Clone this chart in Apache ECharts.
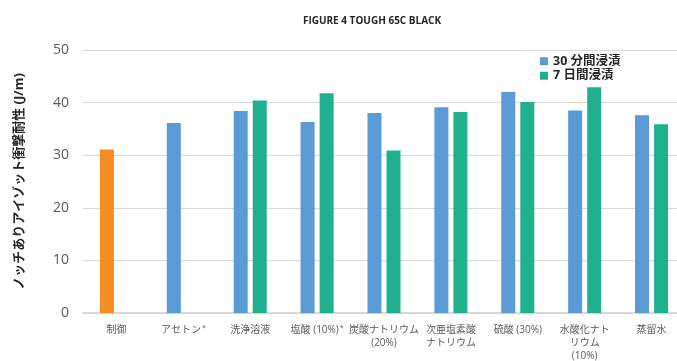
<!DOCTYPE html>
<html>
<head>
<meta charset="utf-8">
<script src="https://cdn.jsdelivr.net/npm/echarts@6/dist/echarts.min.js"></script>
<style>
  html, body { margin: 0; padding: 0; background: #fff; }
  #chart { width: 677px; height: 361px; }
</style>
</head>
<body>
<div id="chart"></div>
<script>
// カテゴリ（x軸）
const categories = ['制御', 'アセトン*', '洗浄溶液', '塩酸 (10%)*', '炭酸ナトリウム\n(20%)',
  '次亜塩素酸\nナトリウム', '硫酸 (30%)', '水酸化ナト\nリウム\n(10%)', '蒸留水'];
// 30 分間浸漬（先頭の「制御」はオレンジ表示）
const soak30min = [31.1, 36.1, 38.4, 36.3, 38.0, 39.1, 42.0, 38.5, 37.6];
// 7 日間浸漬
const soak7day = [null, null, 40.4, 41.8, 30.9, 38.2, 40.1, 42.9, 35.9];
const yTicks = [0, 10, 20, 30, 40, 50];

const FONT = "'Open Sans', 'Noto Sans CJK JP', sans-serif";
const BLUE = '#5B9BD5';
const GREEN = '#20B08E';
const ORANGE = '#F68B1F';

const chart = echarts.init(document.getElementById('chart'));

// 末尾の * は小さい上付きにする
const fmtLabel = (v) => {
  if (v.endsWith('*')) return '{t|' + v.slice(0, -1) + '}{s|*}';
  return v;
};

const option = {
  animation: false,
  backgroundColor: '#fff',
  title: {
    text: 'FIGURE 4 TOUGH 65C BLACK',
    left: 367,
    textAlign: 'center',
    top: 11,
    textStyle: { fontFamily: FONT, fontSize: 10, fontWeight: 'bold', color: '#262626' }
  },
  legend: {
    orient: 'vertical',
    left: 540,
    top: 55,
    padding: 0,
    itemWidth: 8,
    itemHeight: 8,
    itemGap: 2,
    icon: 'rect',
    textStyle: { fontFamily: FONT, fontSize: 12.5, fontWeight: 'bold', color: '#262626' },
    data: ['30 分間浸漬', '7 日間浸漬']
  },
  grid: {
    left: 83,
    right: -8,
    top: 50,
    bottom: 48,
    outerBoundsMode: 'none'
  },
  xAxis: {
    type: 'category',
    data: categories,
    axisTick: { show: false },
    axisLine: { lineStyle: { color: '#d0d0d0', width: 1.5 } },
    axisLabel: {
      interval: 0,
      margin: 11,
      fontFamily: FONT,
      fontSize: 10,
      lineHeight: 13,
      color: '#595959',
      formatter: fmtLabel,
      rich: {
        t: { fontFamily: FONT, fontSize: 10, color: '#595959' },
        s: { fontFamily: FONT, fontSize: 7, color: '#595959', verticalAlign: 'top', padding: [0, 0, 4, 1] }
      }
    }
  },
  yAxis: {
    type: 'value',
    min: yTicks[0],
    max: yTicks[yTicks.length - 1],
    interval: 10,
    name: 'ノッチありアイゾット衝撃耐性 (J/m)',
    nameLocation: 'middle',
    nameGap: 57,
    nameTextStyle: { fontFamily: FONT, fontSize: 13, fontWeight: 'bold', color: '#262626' },
    axisLine: { show: false },
    axisTick: { show: false },
    axisLabel: { fontFamily: FONT, fontSize: 14, color: '#595959', margin: 14 },
    splitLine: { lineStyle: { color: '#d9d9d9', width: 1.2 } }
  },
  series: [
    {
      name: '30 分間浸漬',
      type: 'bar',
      barWidth: 14,
      barGap: '36%',
      itemStyle: { color: BLUE },
      data: soak30min.map((v, i) => i === 0 ? { value: v, itemStyle: { color: ORANGE } } : v)
    },
    {
      name: '7 日間浸漬',
      type: 'bar',
      barWidth: 14,
      itemStyle: { color: GREEN },
      data: soak7day
    }
  ]
};

chart.setOption(option);
</script>
</body>
</html>
